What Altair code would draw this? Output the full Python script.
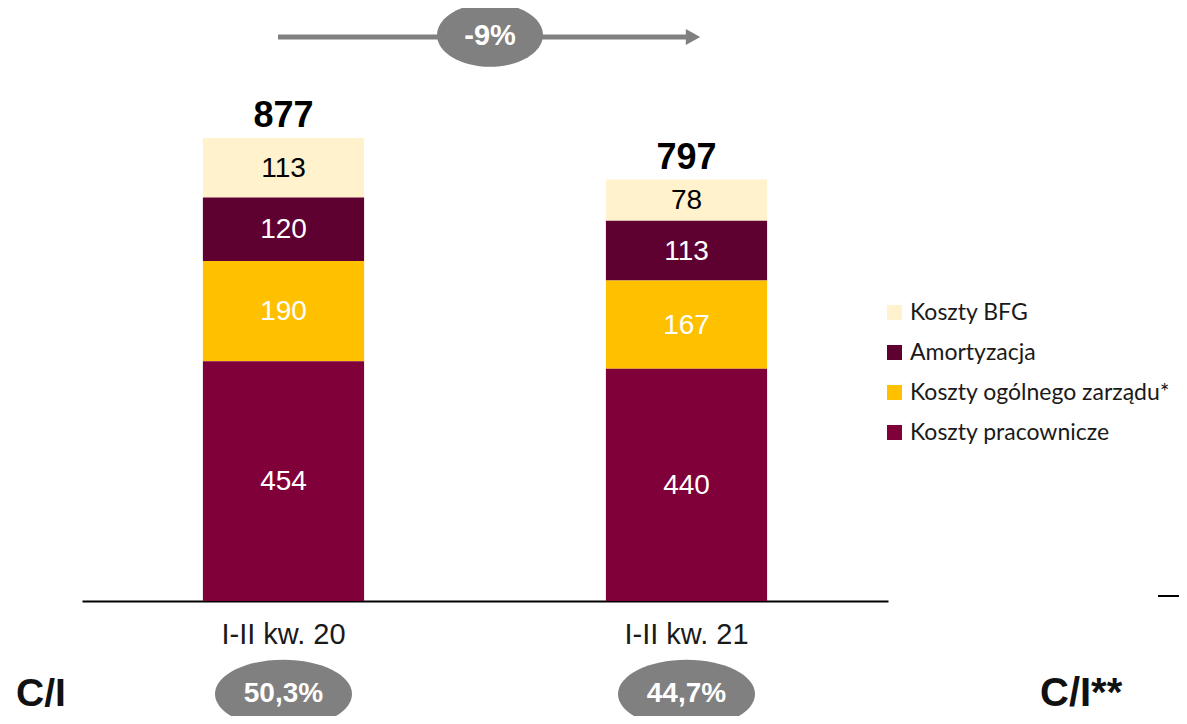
import altair as alt
import pandas as pd

# ---- data ----
categories = ["I-II kw. 20", "I-II kw. 21"]
series = ["Koszty BFG", "Amortyzacja", "Koszty ogólnego zarządu*", "Koszty pracownicze"]
stack_order = [4, 3, 2, 1]  # 1 = bottom of the stack
colors = ["#FFF2CC", "#5E0030", "#FFC000", "#80003A"]
bfg = [113, 78]
amortyzacja = [120, 113]
ogolne = [190, 167]
pracownicze = [454, 440]
totals = [877, 797]
ci_values = ["50,3%", "44,7%"]
change_label = "-9%"

values_by_series = [bfg, amortyzacja, ogolne, pracownicze]
rows = []
for s, o, vals in zip(series, stack_order, values_by_series):
    for c, v in zip(categories, vals):
        rows.append({"cat": c, "series": s, "order": o, "value": v})
df = pd.DataFrame(rows)
df_tot = pd.DataFrame({"cat": categories, "total": totals})
df_ci = pd.DataFrame({"cat": categories, "ci": ci_values})
one = pd.DataFrame({"label": [change_label]})

FONT = "Liberation Sans"
GREY = "#808080"

x_enc = alt.X(
    "cat:N",
    sort=categories,
    scale=alt.Scale(paddingInner=0.6, paddingOuter=0.3),
    axis=alt.Axis(
        title=None, labelAngle=0, ticks=False, domainColor="#000000", domainWidth=2,
        labelFont=FONT, labelFontSize=29, labelColor="#1a1a1a", labelPadding=19,
    ),
)
y_scale = alt.Scale(domain=[0, 1123], nice=False, zero=True)

bars = alt.Chart(df).mark_bar().encode(
    x=x_enc,
    y=alt.Y("value:Q", stack="zero", scale=y_scale, axis=None),
    color=alt.Color(
        "series:N",
        scale=alt.Scale(domain=series, range=colors),
        legend=alt.Legend(
            title=None, orient="none", legendX=801, legendY=293,
            symbolType="square", symbolSize=225, symbolStrokeWidth=0,
            labelFont="Lato", labelFontSize=23, labelColor="#1a1a1a",
            rowPadding=16, labelOffset=4, padding=0, labelLimit=400,
        ),
    ),
    order=alt.Order("order:Q", sort="ascending"),
)

seg_labels = (
    alt.Chart(df)
    .transform_stack(stack="value", groupby=["cat"], as_=["y0", "y1"],
                     sort=[alt.SortField("order", order="ascending")])
    .transform_calculate(mid="(datum.y0 + datum.y1) / 2")
    .mark_text(font=FONT, fontSize=28, baseline="middle", dy=1)
    .encode(
        x=x_enc,
        y=alt.Y("mid:Q", scale=y_scale, axis=None),
        text="value:Q",
        color=alt.condition(alt.datum.series == "Koszty BFG",
                            alt.value("#000000"), alt.value("#FFFFFF")),
    )
)

total_labels = alt.Chart(df_tot).mark_text(
    font=FONT, fontSize=36, fontWeight="bold", baseline="alphabetic", dy=-11, color="#000000"
).encode(x=x_enc, y=alt.Y("total:Q", scale=y_scale, axis=None), text="total:Q")

ellipse_wide = "M -1 0 A 1 0.5 0 1 1 1 0 A 1 0.5 0 1 1 -1 0 Z"
ellipse_top = "M -1 0 A 1 0.6 0 1 1 1 0 A 1 0.6 0 1 1 -1 0 Z"
arrow_head = "M -0.9 -1 L 0.9 0 L -0.9 1 Z"

arrow_line = alt.Chart(one).mark_rule(color=GREY, strokeWidth=5).encode(
    x=alt.value(196), x2=alt.value(606), y=alt.value(29)
)
arrow_tip = alt.Chart(one).mark_point(
    shape=arrow_head, size=256, filled=True, color=GREY, opacity=1, strokeWidth=0
).encode(x=alt.value(611), y=alt.value(29))
change_ell = alt.Chart(one).mark_point(
    shape=ellipse_top, size=106 * 106, filled=True, color=GREY, opacity=1, strokeWidth=0
).encode(x=alt.value(408), y=alt.value(27))
change_txt = alt.Chart(one).mark_text(
    font=FONT, fontSize=29, fontWeight="bold", color="#FFFFFF", baseline="middle"
).encode(x=alt.value(408), y=alt.value(28), text="label:N")

ci_ell = alt.Chart(df_ci).mark_point(
    shape=ellipse_wide, size=137 * 137, filled=True, color=GREY, opacity=1, strokeWidth=0
).encode(x=x_enc, y=alt.value(686))
ci_txt = alt.Chart(df_ci).mark_text(
    font=FONT, fontSize=28, fontWeight="bold", color="#FFFFFF", baseline="middle"
).encode(x=x_enc, y=alt.value(686), text="ci:N")

ci_left = alt.Chart(pd.DataFrame({"t": ["C/I"]})).mark_text(
    font=FONT, fontSize=39, fontWeight="bold", color="#111111", align="left", baseline="middle"
).encode(x=alt.value(-66), y=alt.value(686), text="t:N")
ci_right = alt.Chart(pd.DataFrame({"t": ["C/I**"]})).mark_text(
    font=FONT, fontSize=40, fontWeight="bold", color="#111111", align="left", baseline="middle"
).encode(x=alt.value(958), y=alt.value(686), text="t:N")
small_line = alt.Chart(one).mark_rule(color="#000000", strokeWidth=2).encode(
    x=alt.value(1076), x2=alt.value(1105), y=alt.value(588)
)

chart = alt.layer(
    bars, seg_labels, total_labels,
    arrow_line, arrow_tip, change_ell, change_txt,
    ci_ell, ci_txt, ci_left, ci_right, small_line,
).properties(
    width=806, height=593,
    padding={"left": 74, "top": 0, "right": 291, "bottom": 115},
    autosize=alt.AutoSizeParams(type="none"),
    background="#FFFFFF",
).configure_view(stroke=None)

chart.save("out.html", embed_options={"renderer": "svg", "actions": False})
